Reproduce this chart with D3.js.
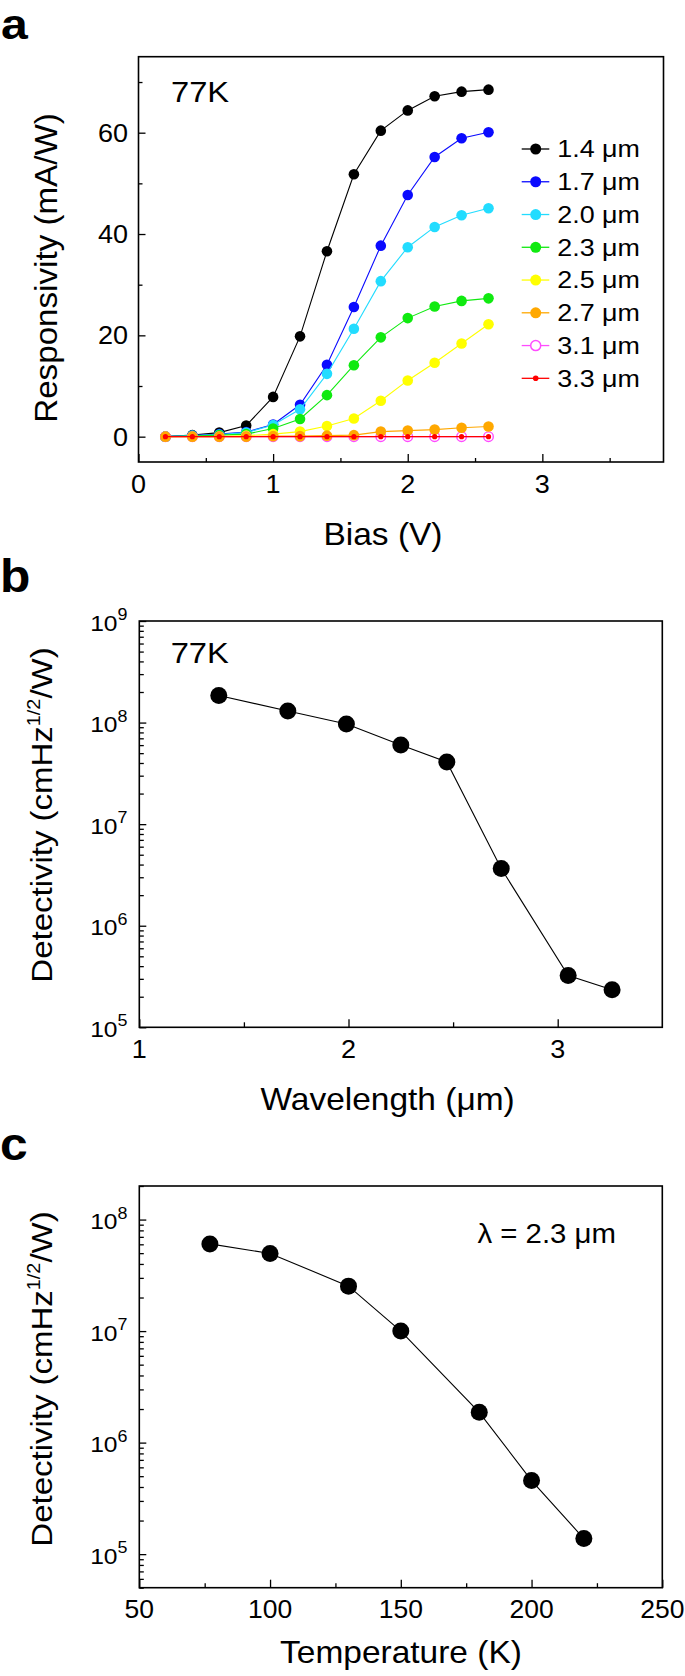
<!DOCTYPE html>
<html><head><meta charset="utf-8">
<script src="https://cdn.jsdelivr.net/npm/d3@7"></script>
<style>
body{margin:0;background:#fff}
svg{display:block}
text{font-family:"Liberation Sans",Arial,Helvetica,sans-serif;fill:#000}
</style>
</head><body>
<svg id="chart" width="685" height="1676"></svg>
<script>
// ---------- Panel a data ----------
const bias = [0.2,0.4,0.6,0.8,1.0,1.2,1.4,1.6,1.8,2.0,2.2,2.4,2.6];
const resp14 = [0.0,0.3,0.8,2.2,7.85,19.8,36.6,51.8,60.4,64.4,67.2,68.1,68.5];
const resp17 = [0.0,0.2,0.5,0.9,2.4,6.3,14.2,25.6,37.7,47.7,55.2,58.9,60.1];
const resp20 = [0.0,0.2,0.4,0.8,2.3,5.4,12.4,21.3,30.7,37.4,41.4,43.7,45.1];
const resp23 = [0.0,0.1,0.3,0.5,1.6,3.5,8.2,14.1,19.6,23.4,25.7,26.8,27.3];
const resp25 = [0.0,0.0,0.0,0.2,0.5,1.0,2.1,3.6,7.1,11.1,14.6,18.4,22.2];
const resp27 = [0.0,0.0,0.0,0.0,0.1,0.1,0.2,0.3,1.0,1.2,1.4,1.75,2.0];
const resp31 = [0,0,0,0,0,0,0,0,0,0,0,0,0];
const resp33 = [0,0,0,0,0,0,0,0,0,0,0,0,0];
const seriesLabels = ["1.4 μm","1.7 μm","2.0 μm","2.3 μm","2.5 μm","2.7 μm","3.1 μm","3.3 μm"];
const seriesColors = ["#000000","#0a0aff","#22dcff","#10ea10","#ffff00","#ffa800","#ff4cff","#ff0000"];
const biasMajor = [0,1,2,3], biasMinor = [0.5,1.5,2.5,3.5];
const respMajor = [0,20,40,60], respMinor = [10,30,50,70];

// ---------- Panel b data ----------
const wavelength = [1.38,1.71,1.99,2.25,2.47,2.73,3.05,3.26];
const detectB = [1.85e8,1.30e8,9.7e7,6.0e7,4.1e7,3.66e6,3.23e5,2.34e5];
const wlMajor = [1,2,3], wlMinor = [1.5,2.5];
const expB = [5,6,7,8,9];

// ---------- Panel c data ----------
const temperature = [77,100,130,150,180,200,220];
const detectC = [6.05e7,4.97e7,2.53e7,1.0e7,1.87e6,4.57e5,1.38e5];
const tMajor = [50,100,150,200,250], tMinor = [75,125,175,225];
const expC = [5,6,7,8];

// ---------- helpers ----------
const K = 1.1;
const svg = d3.select("#chart");

function label(g, x, y, s, size, anchor, opt = {}) {
  const t = g.append("text")
    .attr("transform", `translate(${x},${y})${opt.rot ? ` rotate(${opt.rot})` : ""} scale(${opt.k || K},1)`)
    .attr("text-anchor", anchor)
    .style("font-size", size + "px");
  if (opt.bold) t.style("font-weight", "bold");
  if (s !== null) t.text(s);
  return t;
}
function powLabel(g, x, y, exp) {
  const t = label(g, x, y, null, 22, "end", {k: 1.12});
  t.append("tspan").text("10");
  t.append("tspan").attr("dy", -10.7).style("font-size", "16px").text(exp);
  return t;
}
function detTitle(g, x, y) {
  const t = label(g, x, y, null, 30, "middle", {rot: -90, k: 1.1});
  t.append("tspan").text("Detectivity (cmHz");
  t.append("tspan").attr("dy", -12).style("font-size", "18px").text("1/2");
  t.append("tspan").attr("dy", 12).text("/W)");
}
function tickSet(g, axisFn, scale, values, size, tr) {
  const a = g.append("g").attr("transform", tr)
    .call(axisFn(scale).tickValues(values).tickSize(-size).tickFormat(""));
  a.select(".domain").remove();
  a.selectAll("line").attr("stroke", "#000").attr("stroke-width", 1.3);
}
function frame(g, L, R, T, B) {
  g.append("rect").attr("x", L).attr("y", T).attr("width", R - L).attr("height", B - T)
    .attr("fill", "none").attr("stroke", "#000").attr("stroke-width", 1.6);
}
function minorLog(lo, hi) {
  const out = [];
  for (let e = Math.floor(Math.log10(lo)); e <= Math.ceil(Math.log10(hi)); e++)
    for (let m = 2; m <= 9; m++) { const v = m * Math.pow(10, e); if (v >= lo && v <= hi) out.push(v); }
  return out;
}

// ---------- Panel a ----------
{
  const L = 138.5, R = 663.5, T = 56.7, B = 462;
  const g = svg.append("g");
  const x = d3.scaleLinear().domain([0, 3.9]).range([L, R]);
  const y = d3.scaleLinear().domain([-5, 75]).range([B, T]);
  label(g, 1, 39, "a", 43, "start", {bold: true, k: 1.12});

  tickSet(g, d3.axisBottom, x, biasMajor, 8, `translate(0,${B})`);
  tickSet(g, d3.axisBottom, x, biasMinor, 4, `translate(0,${B})`);
  tickSet(g, d3.axisLeft, y, respMajor, 7, `translate(${L},0)`);
  tickSet(g, d3.axisLeft, y, respMinor, 4, `translate(${L},0)`);
  frame(g, L, R, T, B);

  biasMajor.forEach(v => label(g, x(v), 493, String(v), 25, "middle", {k: 1.08}));
  respMajor.forEach(v => label(g, 128, y(v) + 9, String(v), 25, "end", {k: 1.08}));

  label(g, 383, 545, "Bias (V)", 31, "middle", {k: 1.08});
  label(g, 56.7, 268, "Responsivity (mA/W)", 31, "middle", {rot: -90, k: 1.07});
  label(g, 171, 102, "77K", 30, "start", {k: 1.09});

  const all = [resp14, resp17, resp20, resp23, resp25, resp27, resp31, resp33];
  const series = all.map((vals, i) => ({i, color: seriesColors[i], pts: bias.map((b, j) => [b, vals[j]])}));
  const order = [0, 1, 2, 3, 4, 6, 5, 7];
  const line = d3.line().x(d => x(d[0])).y(d => y(d[1]));
  order.forEach(i => {
    const s = series[i];
    const sg = g.append("g");
    sg.append("path").attr("d", line(s.pts)).attr("fill", "none").attr("stroke", s.color).attr("stroke-width", 1.1);
    const c = sg.selectAll("circle").data(s.pts).join("circle")
      .attr("cx", d => x(d[0])).attr("cy", d => y(d[1]));
    if (i === 6) c.attr("r", 4.8).attr("fill", "none").attr("stroke", s.color).attr("stroke-width", 1.4);
    else if (i === 7) c.attr("r", 2.6).attr("fill", s.color);
    else c.attr("r", 5.3).attr("fill", s.color);
  });

  // legend
  const lg = g.append("g");
  seriesLabels.forEach((t, i) => {
    const cy = 149 + i * 32.76;
    lg.append("line").attr("x1", 521.7).attr("x2", 549.3).attr("y1", cy).attr("y2", cy)
      .attr("stroke", seriesColors[i]).attr("stroke-width", 1.3);
    const c = lg.append("circle").attr("cx", 535.7).attr("cy", cy);
    if (i === 6) c.attr("r", 5).attr("fill", "#fff").attr("stroke", seriesColors[i]).attr("stroke-width", 1.5);
    else if (i === 7) c.attr("r", 2.8).attr("fill", seriesColors[i]);
    else c.attr("r", 5.5).attr("fill", seriesColors[i]);
    label(lg, 557.3, cy + 8.4, t, 24, "start", {k: 1.12});
  });
}

// ---------- Panel b ----------
{
  const L = 139.3, R = 662.3, T = 621, B = 1027.3;
  const g = svg.append("g");
  const x = d3.scaleLinear().domain([1, 3.5]).range([L, R]);
  const y = d3.scaleLog().domain([1e5, 1e9]).range([B, T]);
  label(g, 0, 591.7, "b", 46, "start", {bold: true, k: 1.08});

  tickSet(g, d3.axisBottom, x, wlMajor, 8, `translate(0,${B})`);
  tickSet(g, d3.axisBottom, x, wlMinor, 5, `translate(0,${B})`);
  tickSet(g, d3.axisLeft, y, expB.map(e => Math.pow(10, e)), 7, `translate(${L},0)`);
  tickSet(g, d3.axisLeft, y, minorLog(1e5, 1e9), 4.5, `translate(${L},0)`);
  frame(g, L, R, T, B);

  wlMajor.forEach(v => label(g, x(v), 1058.3, String(v), 25, "middle", {k: 1.08}));
  expB.forEach(e => powLabel(g, 127.5, y(Math.pow(10, e)) + 9.7, e));

  label(g, 387.6, 1110, "Wavelength (μm)", 31, "middle", {k: 1.08});
  detTitle(g, 52, 815);
  label(g, 170.7, 663.3, "77K", 30, "start", {k: 1.09});

  const pts = wavelength.map((w, i) => [w, detectB[i]]);
  g.append("path").attr("d", d3.line().x(d => x(d[0])).y(d => y(d[1]))(pts))
    .attr("fill", "none").attr("stroke", "#000").attr("stroke-width", 1.1);
  g.selectAll("circle.pt").data(pts).join("circle").attr("class", "pt")
    .attr("cx", d => x(d[0])).attr("cy", d => y(d[1])).attr("r", 8.5).attr("fill", "#000");
}

// ---------- Panel c ----------
{
  const L = 139.3, R = 662.3, T = 1186, B = 1587.7;
  const g = svg.append("g");
  const x = d3.scaleLinear().domain([50, 250]).range([L, R]);
  const y = d3.scaleLog().domain([5e4, 2e8]).range([B, T]);
  label(g, 0, 1160, "c", 46, "start", {bold: true, k: 1.08});

  tickSet(g, d3.axisBottom, x, tMajor, 8, `translate(0,${B})`);
  tickSet(g, d3.axisBottom, x, tMinor, 4.5, `translate(0,${B})`);
  tickSet(g, d3.axisLeft, y, expC.map(e => Math.pow(10, e)), 7, `translate(${L},0)`);
  tickSet(g, d3.axisLeft, y, minorLog(5e4, 2e8), 4.5, `translate(${L},0)`);
  frame(g, L, R, T, B);

  tMajor.forEach(v => label(g, x(v), 1618.3, String(v), 25, "middle", {k: 1.06}));
  expC.forEach(e => powLabel(g, 127.5, y(Math.pow(10, e)) + 9.7, e));

  label(g, 401, 1663, "Temperature (K)", 31, "middle", {k: 1.08});
  detTitle(g, 52, 1379);
  label(g, 477.4, 1243, "λ = 2.3 μm", 28, "start", {k: 1.05});

  const pts = temperature.map((t, i) => [t, detectC[i]]);
  g.append("path").attr("d", d3.line().x(d => x(d[0])).y(d => y(d[1]))(pts))
    .attr("fill", "none").attr("stroke", "#000").attr("stroke-width", 1.1);
  g.selectAll("circle.pt").data(pts).join("circle").attr("class", "pt")
    .attr("cx", d => x(d[0])).attr("cy", d => y(d[1])).attr("r", 8.5).attr("fill", "#000");
}
</script>
</body></html>
